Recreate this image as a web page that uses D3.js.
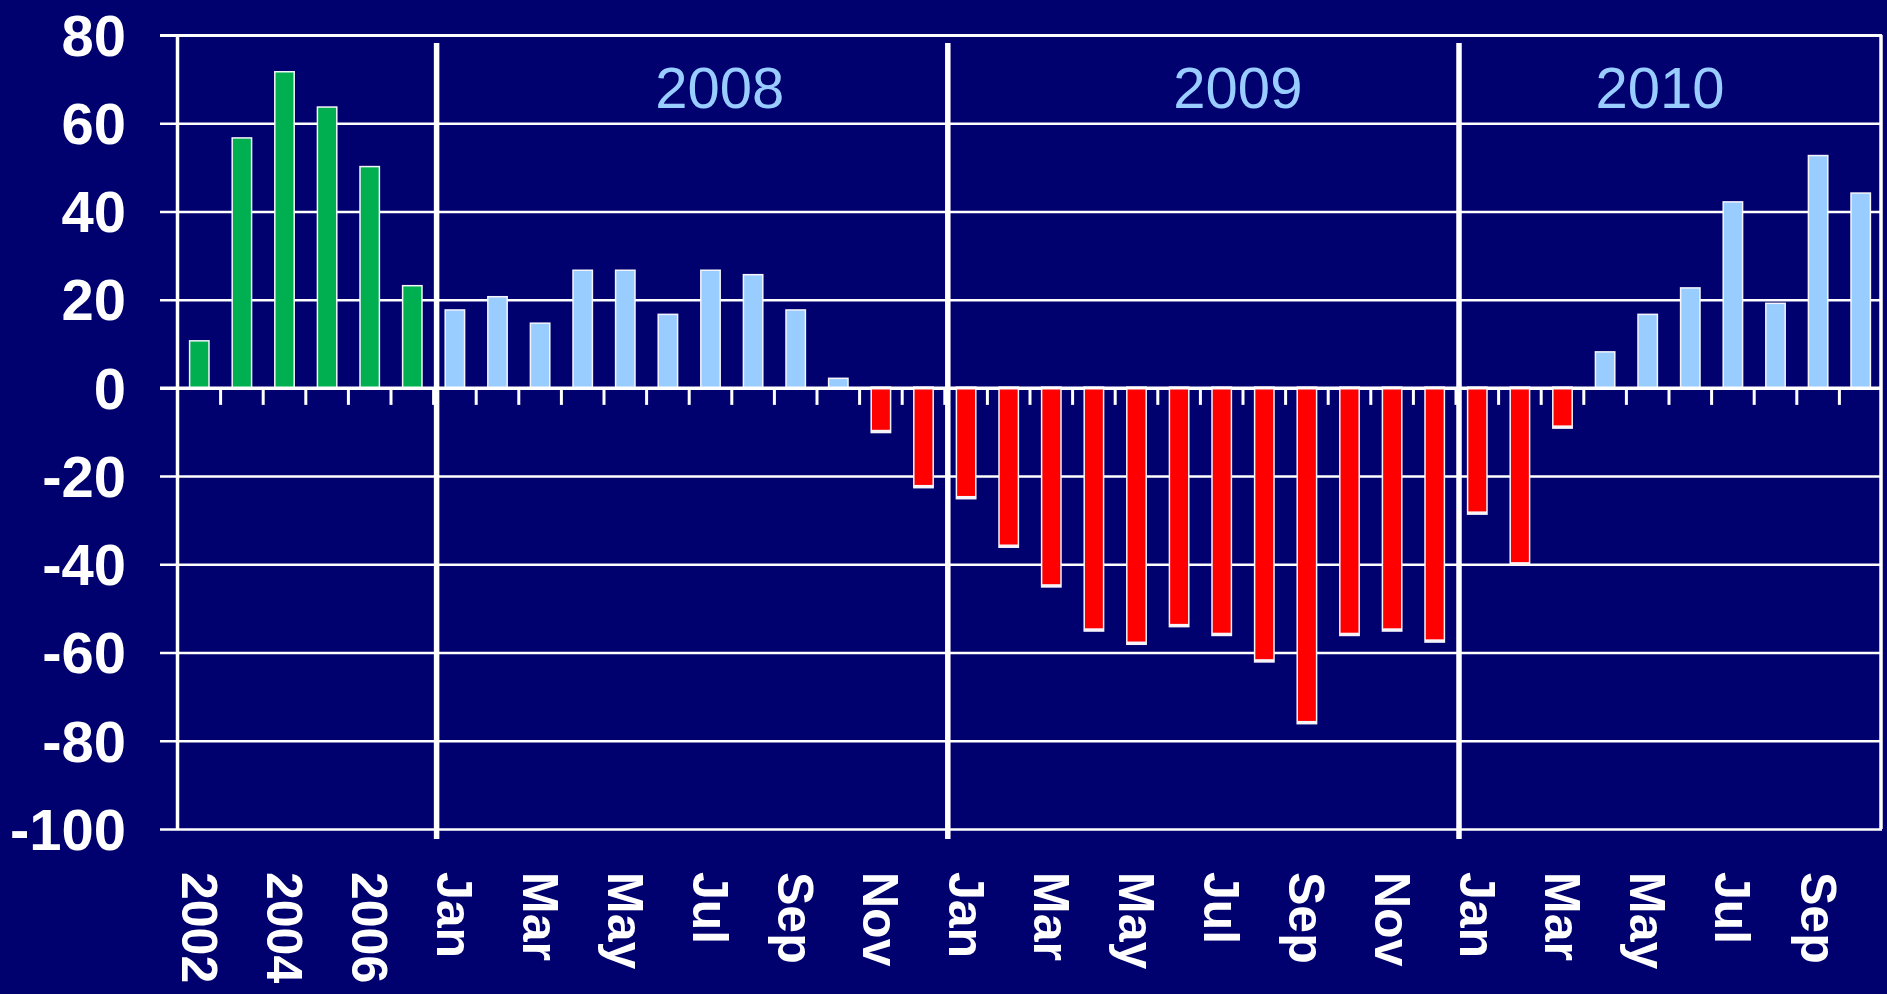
<!DOCTYPE html>
<html lang="en">
  <head>
    <meta charset="UTF-8" />
    <title>Monthly balance chart</title>
    <script src="https://d3js.org/d3.v7.min.js"></script>
    <style>
      body {
        margin: 0;
        background-color: #00006e;
        overflow: hidden;
      }
      svg {
        display: block;
      }
    </style>
  </head>
  <body>
    <script>
      // values
      const annualYears = ["2002", "2003", "2004", "2005", "2006", "2007"];
      const annualValues = [10.5, 56.5, 71.5, 63.5, 50, 23];
      const monthNames = ["Jan", "Feb", "Mar", "Apr", "May", "Jun", "Jul", "Aug", "Sep", "Oct", "Nov", "Dec"];
      const values2008 = [17.5, 20.5, 14.5, 26.5, 26.5, 16.5, 26.5, 25.5, 17.5, 2, -9.5, -22];
      const values2009 = [-24.5, -35.5, -44.5, -54.5, -57.5, -53.5, -55.5, -61.5, -75.5, -55.5, -54.5, -57];
      const values2010 = [-28, -39.5, -8.5, 8, 16.5, 22.5, 42, 19, 52.5, 44];
      const yearLabels = ["2008", "2009", "2010"];
      const yTicks = [80, 60, 40, 20, 0, -20, -40, -60, -80, -100];

      const width = 1887;
      const height = 994;

      // one entry per bar
      let bars = [];
      annualYears.forEach(function (yr, i) {
        bars.push({ key: yr, label: i % 2 == 0 ? yr : "", value: annualValues[i], annual: true });
      });
      [values2008, values2009, values2010].forEach(function (vals, j) {
        vals.forEach(function (v, i) {
          bars.push({
            key: monthNames[i] + " " + yearLabels[j],
            label: i % 2 == 0 ? monthNames[i] : "",
            value: v,
            annual: false,
          });
        });
      });

      const left = 178;
      const right = 1882;

      const x = d3
        .scaleBand()
        .domain(bars.map((d) => d.key))
        .range([left, right])
        .paddingInner(0.58)
        .paddingOuter(0.29);
      const step = x.step();
      const idx = d3.scaleLinear().domain([0, bars.length]).range([left, right]);

      const y = d3.scaleLinear().domain([-100, 80]).range([829, 35]);

      const svg = d3
        .select("body")
        .append("svg")
        .attr("width", width)
        .attr("height", height);

      svg.append("rect").attr("width", width).attr("height", height).attr("fill", "#00006e");

      const font = "'Liberation Sans', Arial, sans-serif";

      // gridlines + y labels (plain hyphen for minus, like the original)
      const yAxis = svg
        .append("g")
        .attr("transform", "translate(160,0)")
        .call(
          d3
            .axisLeft(y)
            .tickValues(yTicks)
            .tickSize(-(right - 160))
            .tickPadding(34)
            .tickFormat((d) => String(d))
        );
      yAxis.select(".domain").remove();
      yAxis
        .selectAll("line")
        .attr("stroke", "white")
        .attr("stroke-width", (d) => (d == 80 || d == 0 ? 3 : 2.5));
      yAxis
        .selectAll("text")
        .attr("fill", "white")
        .attr("font-family", font)
        .attr("font-weight", "bold")
        .attr("font-size", 58)
        .attr("dy", "0.35em");

      // frame sides
      svg
        .append("line")
        .attr("x1", 177.5).attr("x2", 177.5)
        .attr("y1", y(80)).attr("y2", y(-100))
        .attr("stroke", "white").attr("stroke-width", 3.5);
      svg
        .append("line")
        .attr("x1", right - 1).attr("x2", right - 1)
        .attr("y1", y(80)).attr("y2", y(-100))
        .attr("stroke", "white").attr("stroke-width", 3.5);

      // small ticks under the zero line, between bars
      svg
        .append("g")
        .selectAll("line")
        .data(d3.range(1, bars.length))
        .enter()
        .append("line")
        .attr("x1", (i) => left + i * step)
        .attr("x2", (i) => left + i * step)
        .attr("y1", y(0))
        .attr("y2", y(0) + 17)
        .attr("stroke", "white")
        .attr("stroke-width", 3);

      function barColor(d) {
        if (d.annual) return "#00b050";
        return d.value < 0 ? "#ff0000" : "#99ccff";
      }

      const barG = svg.append("g");
      // white outline / shadow
      barG
        .selectAll("rect.edge")
        .data(bars)
        .enter()
        .append("rect")
        .attr("class", "edge")
        .attr("x", (d) => x(d.key) - 1.5)
        .attr("width", x.bandwidth() + 3)
        .attr("y", (d) => y(Math.max(0, d.value)) - 1.5)
        .attr("height", (d) => Math.abs(y(d.value) - y(0)) + 1.5 + (d.value < 0 ? 3.5 : 0))
        .attr("fill", "#f4f4fa");
      barG
        .selectAll("rect.bar")
        .data(bars)
        .enter()
        .append("rect")
        .attr("class", "bar")
        .attr("x", (d) => x(d.key))
        .attr("width", x.bandwidth())
        .attr("y", (d) => y(Math.max(0, d.value)))
        .attr("height", (d) => Math.abs(y(d.value) - y(0)))
        .attr("fill", barColor);

      // zero line on top of bars
      svg
        .append("line")
        .attr("x1", 160).attr("x2", right)
        .attr("y1", y(0)).attr("y2", y(0))
        .attr("stroke", "white").attr("stroke-width", 3);

      // year dividers
      svg
        .append("g")
        .selectAll("line")
        .data([6, 18, 30])
        .enter()
        .append("line")
        .attr("x1", (i) => left + i * step + 3)
        .attr("x2", (i) => left + i * step + 3)
        .attr("y1", y(80) + 8)
        .attr("y2", y(-100) + 10)
        .attr("stroke", "white")
        .attr("stroke-width", 5.5);

      // year captions
      const captionAt = [12.72, 24.88, 34.79];
      svg
        .append("g")
        .selectAll("text")
        .data(yearLabels)
        .enter()
        .append("text")
        .attr("x", (d, i) => idx(captionAt[i]))
        .attr("y", 108)
        .attr("text-anchor", "middle")
        .attr("fill", "#99ccff")
        .attr("font-family", font)
        .attr("font-size", 58)
        .text((d) => d);

      // rotated category labels
      const xAxis = svg
        .append("g")
        .attr("transform", "translate(0,872)")
        .call(
          d3.axisBottom(x).tickSize(0).tickFormat((d, i) => bars[i].label)
        );
      xAxis.select(".domain").remove();
      xAxis
        .selectAll("text")
        .attr("x", 0)
        .attr("y", 0)
        .attr("dy", "0.35em")
        .attr("transform", "rotate(90)")
        .attr("text-anchor", "start")
        .attr("fill", "white")
        .attr("font-family", font)
        .attr("font-weight", "bold")
        .attr("font-size", 50);
    </script>
  </body>
</html>
